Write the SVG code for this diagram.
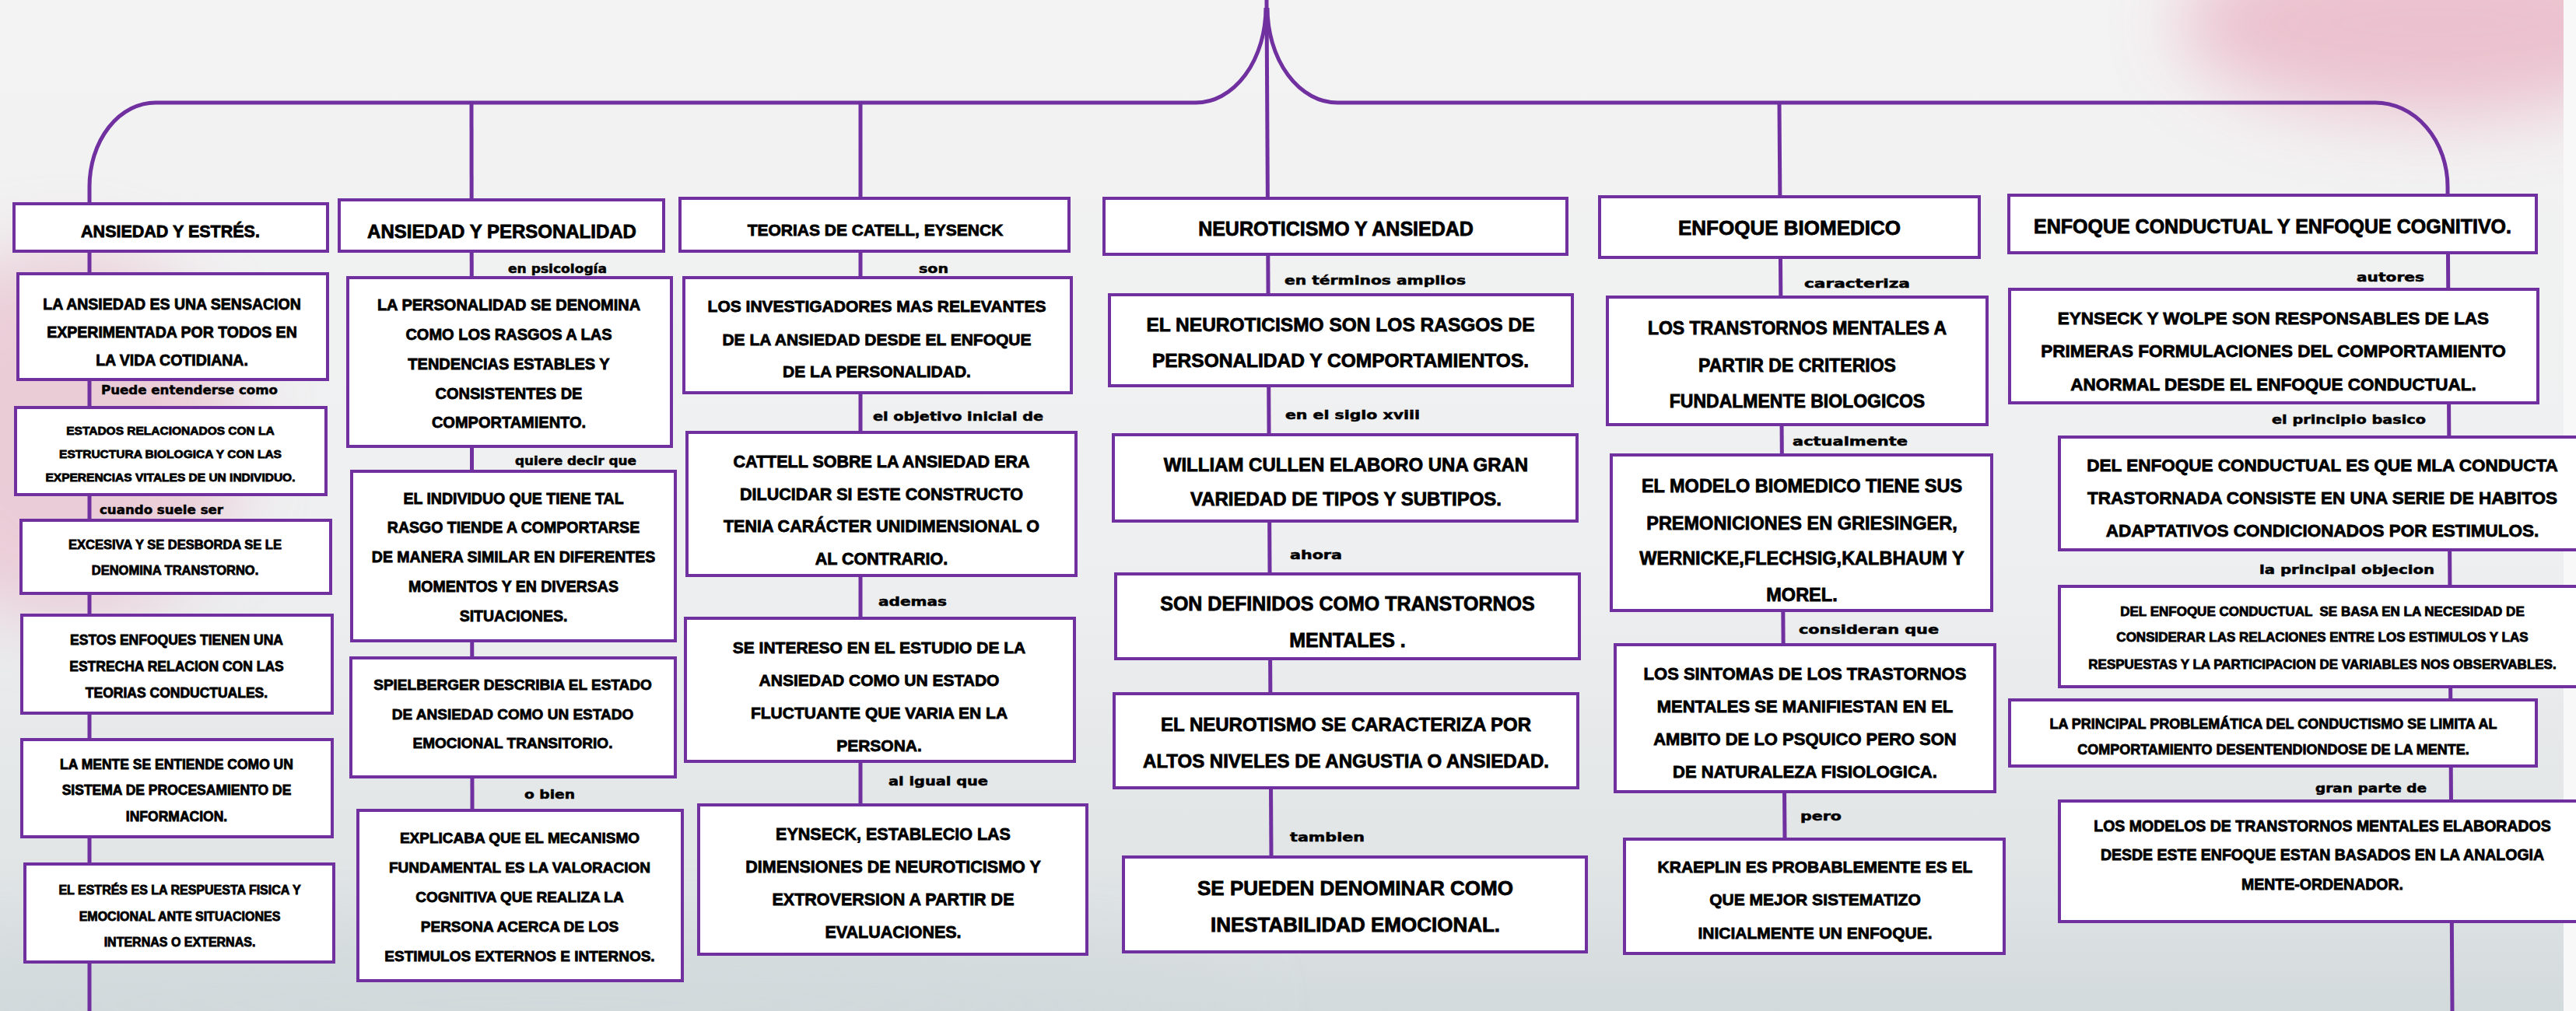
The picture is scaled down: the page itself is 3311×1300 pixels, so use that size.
<svg xmlns="http://www.w3.org/2000/svg" width="3311" height="1300" viewBox="0 0 3311 1300">
<defs>
<linearGradient id="bg" x1="0" y1="0" x2="0" y2="1">
<stop offset="0" stop-color="#f3f3f3"/>
<stop offset="0.55" stop-color="#eeeff0"/>
<stop offset="0.85" stop-color="#e1e5e6"/>
<stop offset="1" stop-color="#d3dadc"/>
</linearGradient>
<filter id="blur" x="-50%" y="-50%" width="200%" height="200%"><feGaussianBlur stdDeviation="45"/></filter>
<style>
.bx{fill:#ffffff;stroke:#7030a0;stroke-width:4}
.ln{fill:none;stroke:#7030a0;stroke-width:5}
.t{font-family:"Liberation Sans",Arial,sans-serif;font-weight:bold;fill:#000;stroke:#000;stroke-width:0.8px;text-anchor:middle}
.lb{font-family:"DejaVu Sans","Liberation Sans",sans-serif;font-weight:bold;font-size:15px;fill:#000;stroke:#000;stroke-width:0.5px}
</style>
</defs>
<g id="background">
<rect x="0" y="0" width="3311" height="1300" fill="url(#bg)"/>
<ellipse cx="80" cy="560" rx="230" ry="240" fill="#e9c4d1" opacity="0.8" filter="url(#blur)"/>
<ellipse cx="3130" cy="30" rx="330" ry="120" fill="#eab9c9" opacity="0.85" filter="url(#blur)"/>
<ellipse cx="700" cy="1290" rx="900" ry="90" fill="#d2d9dc" opacity="0.7" filter="url(#blur)"/>
<rect x="3295" y="0" width="16" height="1300" fill="#f8f8f8"/>
</g>
<g id="connectors">
<path class="ln" d="M1628,0 L1634,1102"/>
<path class="ln" d="M1627,10 A90,122 0 0 1 1537,132 L200,132 A85,108 0 0 0 115,240 L115,1300"/>
<path class="ln" d="M1629,10 A90,122 0 0 0 1719,132 L3053,132 A93,108 0 0 1 3146,240 L3152,1300"/>
<path class="ln" d="M606,134 L607,1042"/>
<path class="ln" d="M1106,134 L1106,1035"/>
<path class="ln" d="M2287,134 L2294,1079"/>
</g>
<g id="col1">
<g id="n-ansiedad-estres"><rect class="bx" x="18" y="262" width="403" height="61"/><text class="t" font-size="21.5" x="219" y="305">ANSIEDAD Y ESTRÉS.</text></g>
<g id="n-c1b1"><rect class="bx" x="23" y="352" width="398" height="136"/><text class="t" font-size="19.5"><tspan x="221" y="398">LA ANSIEDAD ES UNA SENSACION</tspan><tspan x="221" y="434">EXPERIMENTADA POR TODOS EN</tspan><tspan x="221" y="470">LA VIDA COTIDIANA.</tspan></text></g>
<text class="lb" x="130" y="507" textLength="227" lengthAdjust="spacingAndGlyphs">Puede entenderse como</text>
<g id="n-c1b2"><rect class="bx" x="20" y="524" width="399" height="112"/><text class="t" font-size="15.5"><tspan x="219" y="559">ESTADOS RELACIONADOS CON LA</tspan><tspan x="219" y="589">ESTRUCTURA BIOLOGICA Y CON LAS</tspan><tspan x="219" y="619">EXPERENCIAS VITALES DE UN INDIVIDUO.</tspan></text></g>
<text class="lb" x="128" y="661" textLength="159" lengthAdjust="spacingAndGlyphs">cuando suele ser</text>
<g id="n-c1b3"><rect class="bx" x="27" y="669" width="398" height="94"/><text class="t" font-size="16.5"><tspan x="225" y="706">EXCESIVA Y SE DESBORDA SE LE</tspan><tspan x="225" y="739">DENOMINA TRANSTORNO.</tspan></text></g>
<g id="n-c1b4"><rect class="bx" x="28" y="791" width="399" height="126"/><text class="t" font-size="17.5"><tspan x="227" y="829">ESTOS ENFOQUES TIENEN UNA</tspan><tspan x="227" y="863">ESTRECHA RELACION CON LAS</tspan><tspan x="227" y="897">TEORIAS CONDUCTUALES.</tspan></text></g>
<g id="n-c1b5"><rect class="bx" x="28" y="951" width="399" height="125"/><text class="t" font-size="17.5"><tspan x="227" y="989">LA MENTE SE ENTIENDE COMO UN</tspan><tspan x="227" y="1022">SISTEMA DE PROCESAMIENTO DE</tspan><tspan x="227" y="1056">INFORMACION.</tspan></text></g>
<g id="n-c1b6"><rect class="bx" x="32" y="1111" width="397" height="126"/><text class="t" font-size="16"><tspan x="231" y="1150">EL ESTRÉS ES LA RESPUESTA FISICA Y</tspan><tspan x="231" y="1184">EMOCIONAL ANTE SITUACIONES</tspan><tspan x="231" y="1217">INTERNAS O EXTERNAS.</tspan></text></g>
</g>
<g id="col2">
<g id="n-ansiedad-personalidad"><rect class="bx" x="436" y="257" width="417" height="66"/><text class="t" font-size="24" x="645" y="306">ANSIEDAD Y PERSONALIDAD</text></g>
<text class="lb" x="653" y="351" textLength="127" lengthAdjust="spacingAndGlyphs">en psicología</text>
<g id="n-c2b1"><rect class="bx" x="447" y="357" width="416" height="217"/><text class="t" font-size="20"><tspan x="654" y="399">LA PERSONALIDAD SE DENOMINA</tspan><tspan x="654" y="437">COMO LOS RASGOS A LAS</tspan><tspan x="654" y="475">TENDENCIAS ESTABLES Y</tspan><tspan x="654" y="513">CONSISTENTES DE</tspan><tspan x="654" y="550">COMPORTAMIENTO.</tspan></text></g>
<text class="lb" x="662" y="598" textLength="156" lengthAdjust="spacingAndGlyphs">quiere decir que</text>
<g id="n-c2b2"><rect class="bx" x="452" y="606" width="416" height="218"/><text class="t" font-size="19.5"><tspan x="660" y="648">EL INDIVIDUO QUE TIENE TAL</tspan><tspan x="660" y="685">RASGO TIENDE A COMPORTARSE</tspan><tspan x="660" y="723">DE MANERA SIMILAR EN DIFERENTES</tspan><tspan x="660" y="761">MOMENTOS Y EN DIVERSAS</tspan><tspan x="660" y="799">SITUACIONES.</tspan></text></g>
<g id="n-c2b3"><rect class="bx" x="451" y="846" width="417" height="153"/><text class="t" font-size="19"><tspan x="659" y="887">SPIELBERGER DESCRIBIA EL ESTADO</tspan><tspan x="659" y="925">DE ANSIEDAD COMO UN ESTADO</tspan><tspan x="659" y="962">EMOCIONAL TRANSITORIO.</tspan></text></g>
<text class="lb" x="674" y="1027" textLength="65" lengthAdjust="spacingAndGlyphs">o bien</text>
<g id="n-c2b4"><rect class="bx" x="460" y="1042" width="417" height="219"/><text class="t" font-size="19"><tspan x="668" y="1084">EXPLICABA QUE EL MECANISMO</tspan><tspan x="668" y="1122">FUNDAMENTAL ES LA VALORACION</tspan><tspan x="668" y="1160">COGNITIVA QUE REALIZA LA</tspan><tspan x="668" y="1198">PERSONA ACERCA DE LOS</tspan><tspan x="668" y="1236">ESTIMULOS EXTERNOS E INTERNOS.</tspan></text></g>
</g>
<g id="col3">
<g id="n-teorias"><rect class="bx" x="874" y="255" width="500" height="68"/><text class="t" font-size="21" x="1125" y="303">TEORIAS DE CATELL, EYSENCK</text></g>
<text class="lb" x="1181" y="351" textLength="38" lengthAdjust="spacingAndGlyphs">son</text>
<g id="n-c3b1"><rect class="bx" x="879" y="357" width="498" height="148"/><text class="t" font-size="21"><tspan x="1127" y="401">LOS INVESTIGADORES MAS RELEVANTES</tspan><tspan x="1127" y="444">DE LA ANSIEDAD DESDE EL ENFOQUE</tspan><tspan x="1127" y="485">DE LA PERSONALIDAD.</tspan></text></g>
<text class="lb" x="1122" y="541" textLength="219" lengthAdjust="spacingAndGlyphs">el objetivo inicial de</text>
<g id="n-c3b2"><rect class="bx" x="883" y="556" width="500" height="184"/><text class="t" font-size="21.5"><tspan x="1133" y="601">CATTELL SOBRE LA ANSIEDAD ERA</tspan><tspan x="1133" y="643">DILUCIDAR SI ESTE CONSTRUCTO</tspan><tspan x="1133" y="684">TENIA CARÁCTER UNIDIMENSIONAL O</tspan><tspan x="1133" y="726">AL CONTRARIO.</tspan></text></g>
<text class="lb" x="1129" y="779" textLength="88" lengthAdjust="spacingAndGlyphs">ademas</text>
<g id="n-c3b3"><rect class="bx" x="881" y="795" width="500" height="184"/><text class="t" font-size="21"><tspan x="1130" y="840">SE INTERESO EN EL ESTUDIO DE LA</tspan><tspan x="1130" y="882">ANSIEDAD COMO UN ESTADO</tspan><tspan x="1130" y="924">FLUCTUANTE QUE VARIA EN LA</tspan><tspan x="1130" y="966">PERSONA.</tspan></text></g>
<text class="lb" x="1142" y="1010" textLength="128" lengthAdjust="spacingAndGlyphs">al igual que</text>
<g id="n-c3b4"><rect class="bx" x="898" y="1035" width="499" height="192"/><text class="t" font-size="21.5"><tspan x="1148" y="1080">EYNSECK, ESTABLECIO LAS</tspan><tspan x="1148" y="1122">DIMENSIONES DE NEUROTICISMO Y</tspan><tspan x="1148" y="1164">EXTROVERSION A PARTIR DE</tspan><tspan x="1148" y="1206">EVALUACIONES.</tspan></text></g>
</g>
<g id="col4">
<g id="n-neuroticismo"><rect class="bx" x="1419" y="255" width="595" height="72"/><text class="t" font-size="25" x="1717" y="303">NEUROTICISMO Y ANSIEDAD</text></g>
<text class="lb" x="1651" y="366" textLength="233" lengthAdjust="spacingAndGlyphs">en términos amplios</text>
<g id="n-c4b1"><rect class="bx" x="1426" y="379" width="595" height="117"/><text class="t" font-size="24.5"><tspan x="1723" y="426">EL NEUROTICISMO SON LOS RASGOS DE</tspan><tspan x="1723" y="472">PERSONALIDAD Y COMPORTAMIENTOS.</tspan></text></g>
<text class="lb" x="1652" y="539" textLength="173" lengthAdjust="spacingAndGlyphs">en el siglo xviii</text>
<g id="n-c4b2"><rect class="bx" x="1431" y="559" width="596" height="111"/><text class="t" font-size="24"><tspan x="1730" y="606">WILLIAM CULLEN ELABORO UNA GRAN</tspan><tspan x="1730" y="650">VARIEDAD DE TIPOS Y SUBTIPOS.</tspan></text></g>
<text class="lb" x="1658" y="719" textLength="67" lengthAdjust="spacingAndGlyphs">ahora</text>
<g id="n-c4b3"><rect class="bx" x="1434" y="738" width="596" height="109"/><text class="t" font-size="25"><tspan x="1732" y="785">SON DEFINIDOS COMO TRANSTORNOS</tspan><tspan x="1732" y="832">MENTALES .</tspan></text></g>
<g id="n-c4b4"><rect class="bx" x="1432" y="892" width="596" height="121"/><text class="t" font-size="24"><tspan x="1730" y="940">EL NEUROTISMO SE CARACTERIZA POR</tspan><tspan x="1730" y="987">ALTOS NIVELES DE ANGUSTIA O ANSIEDAD.</tspan></text></g>
<text class="lb" x="1658" y="1082" textLength="96" lengthAdjust="spacingAndGlyphs">tambien</text>
<g id="n-c4b5"><rect class="bx" x="1444" y="1102" width="595" height="122"/><text class="t" font-size="26"><tspan x="1742" y="1151">SE PUEDEN DENOMINAR COMO</tspan><tspan x="1742" y="1198">INESTABILIDAD EMOCIONAL.</tspan></text></g>
</g>
<g id="col5">
<g id="n-biomedico"><rect class="bx" x="2056" y="253" width="488" height="78"/><text class="t" font-size="26" x="2300" y="302">ENFOQUE BIOMEDICO</text></g>
<text class="lb" x="2319" y="370" textLength="136" lengthAdjust="spacingAndGlyphs">caracteriza</text>
<g id="n-c5b1"><rect class="bx" x="2066" y="382" width="488" height="164"/><text class="t" font-size="23"><tspan x="2310" y="430">LOS TRANSTORNOS MENTALES A</tspan><tspan x="2310" y="478">PARTIR DE CRITERIOS</tspan><tspan x="2310" y="524">FUNDALMENTE BIOLOGICOS</tspan></text></g>
<text class="lb" x="2304" y="573" textLength="148" lengthAdjust="spacingAndGlyphs">actualmente</text>
<g id="n-c5b2"><rect class="bx" x="2071" y="585" width="489" height="200"/><text class="t" font-size="23.5"><tspan x="2316" y="633">EL MODELO BIOMEDICO TIENE SUS</tspan><tspan x="2316" y="681">PREMONICIONES EN GRIESINGER,</tspan><tspan x="2316" y="726">WERNICKE,FLECHSIG,KALBHAUM Y</tspan><tspan x="2316" y="773">MOREL.</tspan></text></g>
<text class="lb" x="2312" y="815" textLength="180" lengthAdjust="spacingAndGlyphs">consideran que</text>
<g id="n-c5b3"><rect class="bx" x="2076" y="829" width="488" height="189"/><text class="t" font-size="22"><tspan x="2320" y="874">LOS SINTOMAS DE LOS TRASTORNOS</tspan><tspan x="2320" y="916">MENTALES SE MANIFIESTAN EN EL</tspan><tspan x="2320" y="958">AMBITO DE LO PSQUICO PERO SON</tspan><tspan x="2320" y="1000">DE NATURALEZA FISIOLOGICA.</tspan></text></g>
<text class="lb" x="2314" y="1055" textLength="53" lengthAdjust="spacingAndGlyphs">pero</text>
<g id="n-c5b4"><rect class="bx" x="2088" y="1079" width="488" height="147"/><text class="t" font-size="21"><tspan x="2333" y="1122">KRAEPLIN ES PROBABLEMENTE ES EL</tspan><tspan x="2333" y="1164">QUE MEJOR SISTEMATIZO</tspan><tspan x="2333" y="1207">INICIALMENTE UN ENFOQUE.</tspan></text></g>
</g>
<g id="col6">
<g id="n-conductual"><rect class="bx" x="2582" y="251" width="678" height="74"/><text class="t" font-size="25" x="2921" y="300">ENFOQUE CONDUCTUAL Y ENFOQUE COGNITIVO.</text></g>
<text class="lb" x="3029" y="362" textLength="87" lengthAdjust="spacingAndGlyphs">autores</text>
<g id="n-c6b1"><rect class="bx" x="2583" y="372" width="679" height="146"/><text class="t" font-size="22.5"><tspan x="2922" y="417">EYNSECK Y WOLPE SON RESPONSABLES DE LAS</tspan><tspan x="2922" y="459">PRIMERAS FORMULACIONES DEL COMPORTAMIENTO</tspan><tspan x="2922" y="502">ANORMAL DESDE EL ENFOQUE CONDUCTUAL.</tspan></text></g>
<text class="lb" x="2920" y="545" textLength="198" lengthAdjust="spacingAndGlyphs">el principio basico</text>
<g id="n-c6b2"><rect class="bx" x="2647" y="562" width="680" height="145"/><text class="t" font-size="22.5"><tspan x="2985" y="606">DEL ENFOQUE CONDUCTUAL ES QUE MLA CONDUCTA</tspan><tspan x="2985" y="648">TRASTORNADA CONSISTE EN UNA SERIE DE HABITOS</tspan><tspan x="2985" y="690">ADAPTATIVOS CONDICIONADOS POR ESTIMULOS.</tspan></text></g>
<text class="lb" x="2904" y="738" textLength="225" lengthAdjust="spacingAndGlyphs">la principal objecion</text>
<g id="n-c6b3"><rect class="bx" x="2647" y="754" width="680" height="129"/><text class="t" font-size="17"><tspan x="2985" y="792">DEL ENFOQUE CONDUCTUAL &#160;SE BASA EN LA NECESIDAD DE</tspan><tspan x="2985" y="825">CONSIDERAR LAS RELACIONES ENTRE LOS ESTIMULOS Y LAS</tspan><tspan x="2985" y="860">RESPUESTAS Y LA PARTICIPACION DE VARIABLES NOS OBSERVABLES.</tspan></text></g>
<g id="n-c6b4"><rect class="bx" x="2583" y="900" width="677" height="85"/><text class="t" font-size="18"><tspan x="2922" y="937">LA PRINCIPAL PROBLEMÁTICA DEL CONDUCTISMO SE LIMITA AL</tspan><tspan x="2922" y="970">COMPORTAMIENTO DESENTENDIONDOSE DE LA MENTE.</tspan></text></g>
<text class="lb" x="2976" y="1019" textLength="143" lengthAdjust="spacingAndGlyphs">gran parte de</text>
<g id="n-c6b5"><rect class="bx" x="2647" y="1030" width="680" height="155"/><text class="t" font-size="19.5"><tspan x="2985" y="1069">LOS MODELOS DE TRANSTORNOS MENTALES ELABORADOS</tspan><tspan x="2985" y="1106">DESDE ESTE ENFOQUE ESTAN BASADOS EN LA ANALOGIA</tspan><tspan x="2985" y="1144">MENTE-ORDENADOR.</tspan></text></g>
</g>
</svg>
